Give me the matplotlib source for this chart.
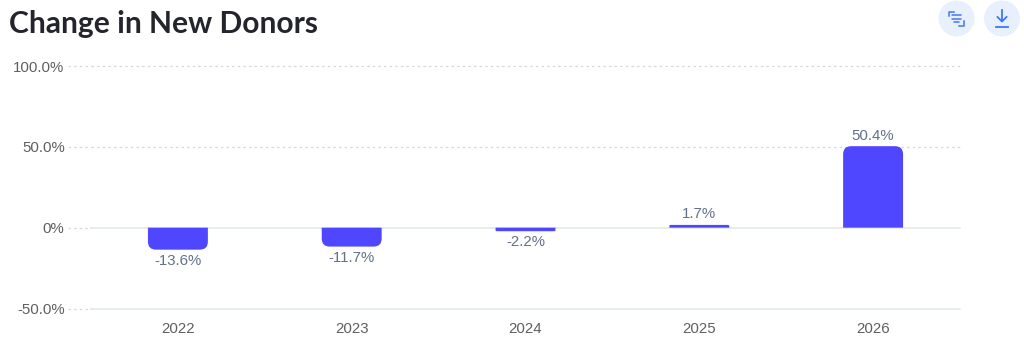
import matplotlib
matplotlib.use("Agg")
import matplotlib.pyplot as plt
from matplotlib.path import Path
from matplotlib.patches import PathPatch, Circle

years = ["2022", "2023", "2024", "2025", "2026"]
changes = [-13.6, -11.7, -2.2, 1.7, 50.4]
labels = ["-13.6%", "-11.7%", "-2.2%", "1.7%", "50.4%"]
y_ticks = [-50, 0, 50, 100]
y_tick_labels = ["-50.0%", "0%", "50.0%", "100.0%"]
title = "Change in New Donors"

W, H = 1024, 351
fig = plt.figure(figsize=(W / 100, H / 100), dpi=100, facecolor="white")
plt.rcParams["font.family"] = ["Liberation Sans", "DejaVu Sans"]

ax = fig.add_axes([91 / W, 1 - 308.5 / H, 869 / W, (308.5 - 66) / H])
ax.set_xlim(-0.5, 4.5)
ax.set_ylim(-50, 100)
for s in ax.spines.values():
    s.set_visible(False)
ax.patch.set_alpha(0)
ax.set_xticks(range(len(years)), years)
ax.set_yticks(y_ticks, y_tick_labels)
ax.tick_params(axis="x", length=0, pad=10, labelsize=10.8, labelcolor="#5f5f5f")
ax.tick_params(axis="y", length=0, pad=19, labelsize=10.8, labelcolor="#5f5f5f")

for t in y_ticks:
    solid = t in (-50, 0)
    ax.plot([-0.5, 4.5], [t, t], color="#dfe8e5" if solid else "#d8d8d8",
            lw=1.1 if solid else 0.9, ls="-" if solid else (0, (2, 2.5)),
            zorder=1, clip_on=False)
    ax.plot([-0.632, -0.5], [t, t], color="#d8d8d8", lw=0.9, ls=(0, (2, 2.5)),
            zorder=1, clip_on=False)

bar_w = 60 / 174
rx = 8 / 174
ry_unit = 150 / (308.5 - 66)
for i, v in enumerate(changes):
    l, r = i - bar_w / 2, i + bar_w / 2
    sign = 1 if v > 0 else -1
    big = abs(v) > 3
    rxx = rx if big else 1.5 / 174
    ryy = 8 * ry_unit if big else 0.6
    verts = [(l, 0), (l, v - sign * ryy), (l, v), (l + rxx, v),
             (r - rxx, v), (r, v), (r, v - sign * ryy), (r, 0), (l, 0)]
    codes = [Path.MOVETO, Path.LINETO, Path.CURVE3, Path.CURVE3,
             Path.LINETO, Path.CURVE3, Path.CURVE3, Path.LINETO, Path.CLOSEPOLY]
    ax.add_patch(PathPatch(Path(verts, codes), fc="#4f46ff", ec="none", zorder=3))
    ax.annotate(labels[i], (i, v), xytext=(0, 2.5 if v > 0 else -3), textcoords="offset points",
                ha="center", va="bottom" if v > 0 else "top", fontsize=10.8, color="#64708a", zorder=4)

ov = fig.add_axes([0, 0, 1, 1])
ov.set_xlim(0, W)
ov.set_ylim(H, 0)
ov.axis("off")
ov.patch.set_alpha(0)
ov.text(9, 24, title, fontsize=21.6, fontweight="bold", family=["Lato", "DejaVu Sans"],
        color="#24242c", va="center", ha="left")

blue = "#3f78f5"
for cx in (956.5, 1002):
    ov.add_patch(Circle((cx, 18.5), 18, fc="#e9f0fd", ec="none"))
for x0, x1, y in [(952, 961, 15), (952, 961, 18.5), (954, 959, 22)]:
    ov.plot([x0, x1], [y, y], color=blue, lw=1.1, solid_capstyle="round")
ov.plot([954, 949, 949], [11.5, 11.5, 16], color=blue, lw=1.1)
ov.plot([959, 964, 964], [25.5, 25.5, 21], color=blue, lw=1.1)
ov.plot([1002, 1002], [9.5, 20.5], color=blue, lw=1.3)
ov.plot([997.5, 1002, 1006.5], [17, 21.5, 17], color=blue, lw=1.3)
ov.plot([996, 1008], [26.5, 26.5], color=blue, lw=1.3)

fig.savefig("out.png", dpi=100, facecolor="white")
